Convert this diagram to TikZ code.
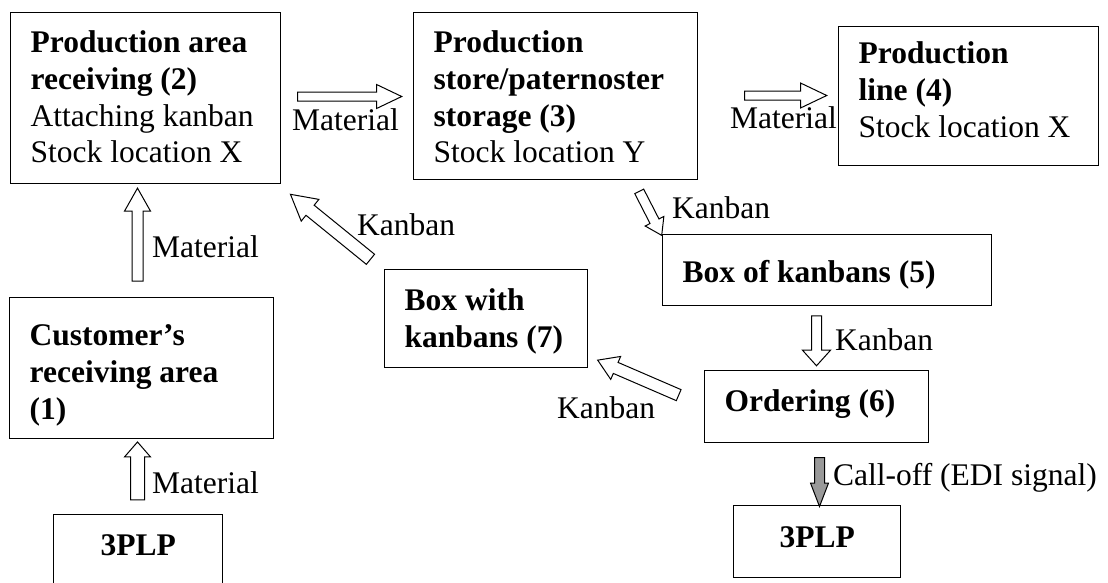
\documentclass[tikz,border=0pt]{standalone}
\usepackage{fontspec}
\setmainfont{Liberation Serif}
\usetikzlibrary{positioning,shapes.arrows,calc}

\tikzset{
  box/.style={draw, line width=1.3pt, rectangle, anchor=north west, inner xsep=20pt, inner ysep=0pt, align=flush left},
  lbl/.style={anchor=base west, inner sep=0pt},
  flow/.style={to path={let \p1=($(\tikztotarget)-(\tikztostart)$), \n1={veclen(\x1,\y1)} in
    (\tikztostart) -- (\tikztotarget) node[midway, sloped, allow upside down, single arrow, draw, line width=1pt, inner xsep=0pt, text height=0pt, text depth=0pt, minimum height=\n1, #1] {}}},
  flow/.default={},
}

\begin{document}
\begin{tikzpicture}[x=1pt, y=-1pt, every node/.style={font=\fontsize{31.5}{36.7}\selectfont}]
\useasboundingbox (0,0) rectangle (1108,582);

% boxes
\node[box, text width=230pt, text height=40pt, text depth=131pt] (recv) at (10,12) {\textbf{Production area}\\\textbf{receiving (2)}\\Attaching kanban\\Stock location X};
\node[box, text width=244pt, text height=40pt, text depth=127pt] (store) at (413,12) {\textbf{Production}\\\textbf{store/paternoster}\\\textbf{storage (3)}\\Stock location Y};
\node[box, text width=220pt, text height=37pt, text depth=102pt] (line) at (838,26) {\textbf{Production}\\\textbf{line (4)}\\Stock location X};
\node[box, text width=289pt, text height=48pt, text depth=23pt] (kbox) at (662,234) {\textbf{Box of kanbans (5)}};
\node[box, text width=184pt, text height=41pt, text depth=31pt] (order) at (704,370) {\textbf{Ordering (6)}};
\node[box, text width=163pt, text height=41pt, text depth=57pt] (kwith) at (384,269) {\textbf{Box with}\\\textbf{kanbans (7)}};
\node[box, text width=224pt, text height=48pt, text depth=93pt] (cust) at (9,297) {\textbf{Customer's}\\\textbf{receiving area}\\\textbf{(1)}};
% 3PLP boxes
\node[box, align=center, text width=129pt, text height=41pt, text depth=45pt] (tplA) at (53,514) {\textbf{3PLP}};
\node[box, align=center, text width=127pt, text height=42pt, text depth=30pt] (tplB) at (733,505) {\textbf{3PLP}};

% material flow
\coordinate (m12s) at (137.5,286);
\coordinate (m12e) at (137.5,193);
\path (m12s) to[flow={inner ysep=5pt, single arrow head extend=7.5pt, single arrow tip angle=59}] (m12e);
\coordinate (m23s) at (293,96.5);
\coordinate (m23e) at (397,96.5);
\path (m23s) to[flow={inner ysep=4pt, single arrow head extend=7.5pt, single arrow tip angle=51}] (m23e);
\coordinate (m34s) at (740,95.5);
\coordinate (m34e) at (822,95.5);
\path (m34s) to[flow={inner ysep=4pt, single arrow head extend=8pt, single arrow tip angle=51}] (m34e);
\coordinate (mp1s) at (137.5,504);
\coordinate (mp1e) at (137.5,446);
\path (mp1s) to[flow={inner ysep=6.5pt, single arrow head extend=6pt, single arrow tip angle=82}] (mp1e);

% kanban flow
\coordinate (k35s) at (637.5,188);
\coordinate (k35e) at (660,232);
\path (k35s) to[flow={inner ysep=4.5pt, single arrow head extend=5.5pt, single arrow tip angle=67}] (k35e);
\coordinate (k56s) at (816.5,313);
\coordinate (k56e) at (816.5,363);
\path (k56s) to[flow={inner ysep=4.5pt, single arrow head extend=9pt, single arrow tip angle=84}] (k56e);
\coordinate (k67s) at (683,397);
\coordinate (k67e) at (602,362);
\path (k67s) to[flow={inner ysep=5.5pt, single arrow head extend=6.5pt, single arrow tip angle=65}] (k67e);
\coordinate (k72s) at (375,263);
\coordinate (k72e) at (295,198);
\path (k72s) to[flow={inner ysep=6pt, single arrow head extend=7.5pt, single arrow tip angle=58}] (k72e);

% call-off
\coordinate (cos) at (819.5,451);
\coordinate (coe) at (819.5,500);
\path (cos) to[flow={inner ysep=4.5pt, single arrow head extend=4pt, single arrow tip angle=42, fill=black!40}] (coe);

% labels
\node[lbl] (l12) at (152,257) {Material};
\node[lbl] (l23) at (292,130) {Material};
\node[lbl] (l34) at (730,128) {Material};
\node[lbl] (lp1) at (152,493) {Material};
\node[lbl] (l72) at (357,235) {Kanban};
\node[lbl] (l35) at (672,218) {Kanban};
\node[lbl] (l56) at (835,350) {Kanban};
\node[lbl] (l67) at (557,418) {Kanban};
\node[lbl] (lco) at (833,485) {Call-off (EDI signal)};
\end{tikzpicture}
\end{document}
